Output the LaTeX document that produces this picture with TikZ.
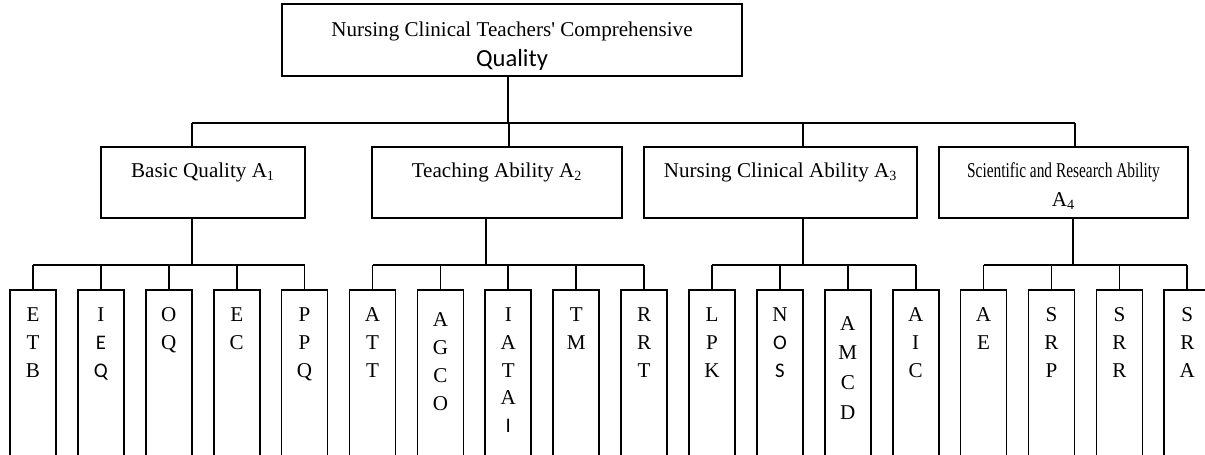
\documentclass[tikz,border=0pt]{standalone}
\usepackage{fontspec}
\usepackage{graphicx}
\setmainfont{Liberation Serif}[Ligatures=TeXOff]
\newfontfamily\calibri{Carlito}

\tikzset{
  box/.style={draw, inner sep=0pt},
  lvl/.style={box, minimum height=1.42cm},
  leaf/.style={box, minimum width=0.92cm, minimum height=4cm, anchor=north},
  lbl/.style={anchor=north, inner sep=0pt, align=center}
}
\newcommand{\cb}[1]{{\calibri\fontsize{11.8}{15.9}\selectfont #1}}

\begin{document}
\begin{tikzpicture}[x=0.02cm, y=-0.02cm, line width=1pt, font=\fontsize{12}{15.9}\selectfont]
\clip (0,0) rectangle (1205,454);
% goal
\node[box, minimum width=9.2cm, minimum height=1.44cm] (top) at (512,40) {};
\node[lbl] (ttop) at ([yshift=-0.36cm]top.north) {Nursing Clinical Teachers' Comprehensive\\[1pt] {\calibri\fontsize{14}{15.9}\selectfont Quality}};
% criteria
\node[lvl, minimum width=4.08cm] (a1) at (203,182.5) {};
\node[lvl, minimum width=5cm] (a2) at (497,182.5) {};
\node[lvl, minimum width=5.46cm] (a3) at (780.5,182.5) {};
\node[lvl, minimum width=4.98cm] (a4) at (1063.5,182.5) {};
\node[lbl] (t1) at ([yshift=-0.32cm]a1.north) {Basic Quality A\textsubscript{1}};
\node[lbl] (t2) at ([yshift=-0.32cm]a2.north) {Teaching Ability A\textsubscript{2}};
\node[lbl] (t3) at ([yshift=-0.32cm]a3.north) {Nursing Clinical Ability A\textsubscript{3}};
\node[lbl] (t4) at ([yshift=-0.32cm]a4.north) {\scalebox{0.73}[1]{Scientific and Research Ability}\\[0.5pt] A\textsubscript{4}};
% indicators
\foreach \i/\txt/\dy in {1/{E\\T\\B}/0, 2/{I\\\cb{E}\\\cb{Q}}/0, 3/{O\\Q}/0,
    4/{E\\C}/0, 5/{P\\P\\Q}/0, 6/{A\\T\\T}/0, 7/{A\\G\\C\\O}/0.1,
    8/{I\\A\\T\\A\\\cb{I}}/0, 9/{T\\M}/0, 10/{R\\R\\T}/0, 11/{L\\P\\K}/0,
    12/{N\\\cb{O}\\\cb{S}}/0, 13/{A\\[1pt]M\\[1pt]C\\[1pt]D}/0.18, 14/{A\\I\\C}/0,
    15/{A\\E}/0, 16/{S\\R\\P}/0, 17/{S\\R\\R}/0, 18/{S\\R\\A}/0} {
  \node[leaf] (l\i) at (33+67.9*\i-67.9,289) {};
  \node[lbl] (n\i) at ([yshift=-0.35cm-\dy cm]l\i.north) {\txt};
}
% connectors
\coordinate (j0) at (508,123);
\coordinate (b1) at (192,123);
\coordinate (b2) at (509,123);
\coordinate (b3) at (803,123);
\coordinate (b4) at (1075,123);
\coordinate (c1) at (192,265);
\coordinate (c2) at (486,265);
\coordinate (c3) at (803,265);
\coordinate (c4) at (1073,265);
\draw (top.south -| j0) -- (j0);
\draw (b1) -- (b4);
\foreach \g in {1,...,4}
  \draw (b\g) -- (b\g |- a\g.north);
\foreach \g/\a/\b in {1/1/5, 2/6/10, 3/11/14, 4/15/18} {
  \draw (a\g.south -| c\g) -- (c\g);
  \draw (l\a.north |- c\g) -- (l\b.north |- c\g);
  \foreach \k in {\a,...,\b}
    \draw (l\k.north) -- (l\k.north |- c\g);
}
\end{tikzpicture}
\end{document}
